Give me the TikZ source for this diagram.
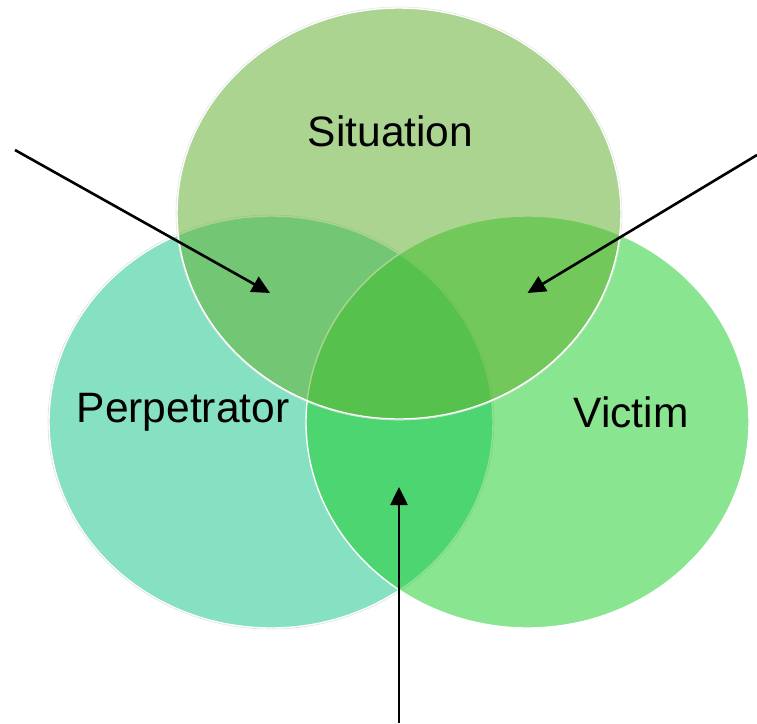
\documentclass[tikz,border=0pt]{standalone}
\usepackage{fontspec}
\setmainfont{Liberation Sans}
\usetikzlibrary{arrows.meta}

\definecolor{perpfill}{RGB}{134,224,194}
\definecolor{victimfill}{RGB}{24,204,37}
\definecolor{situfill}{RGB}{97,175,46}

\tikzset{
  setedge/.style={draw=white, line width=1.4pt},
  setlabel/.style={font=\fontsize{42.5}{50}\selectfont, text=black, inner sep=0pt},
  pointer/.style={line width=2.6pt, -{Triangle[length=18pt,width=17pt]}},
}

\begin{document}
\begin{tikzpicture}[x=1pt, y=-1pt]
  \useasboundingbox (0,0) rectangle (757,723);
  \fill[white] (0,0) rectangle (757,723);

  % the three sets
  \fill[perpfill, setedge] (271,422) ellipse [x radius=222, y radius=206];
  \draw[black!12, line width=0.6pt] (271,422) ellipse [x radius=223, y radius=207];
  \fill[victimfill, fill opacity=0.51, setedge] (527.5,422) ellipse [x radius=221.5, y radius=206];
  \fill[situfill, fill opacity=0.525, setedge] (399,213.5) ellipse [x radius=222, y radius=205.5];
  \draw[black!10, line width=0.6pt] (399,213.5) ellipse [x radius=223, y radius=206.5];

  % set labels
  \node[setlabel] (situation) at (390.5,131) {Situation};
  \node[setlabel] (perpetrator) at (183,412) {Perpetrator};
  \node[setlabel] (victim) at (631,412) {Victim};

  % arrow ends
  \coordinate (srcleft) at (15,150);
  \coordinate (tipleft) at (270,293);
  \coordinate (srcright) at (757,155);
  \coordinate (tipright) at (527.5,293);
  \coordinate (srcbottom) at (399,723);
  \coordinate (tipbottom) at (399,487);

  \draw[pointer] (srcleft) -- (tipleft);
  \draw[pointer] (srcright) -- (tipright);
  \draw[pointer] (srcbottom) -- (tipbottom);
\end{tikzpicture}
\end{document}
